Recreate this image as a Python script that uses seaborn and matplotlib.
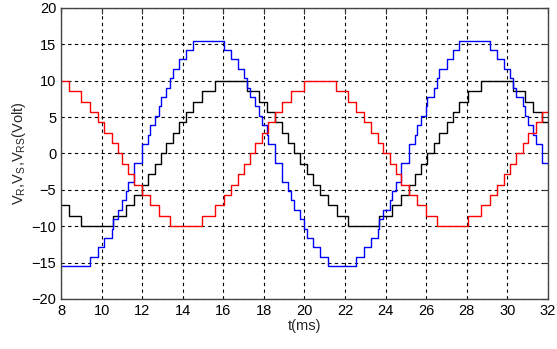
import numpy as np
import pandas as pd
import matplotlib
matplotlib.use("Agg")
import matplotlib.pyplot as plt
import seaborn as sns

# step start times (ms) and held levels (V)
t_r = [8.00, 8.40, 8.99, 9.44, 9.80, 10.13, 10.49, 10.79, 11.02, 11.28, 11.62, 12.01,
       12.40, 12.81, 13.38, 14.97, 15.60, 16.01, 16.39, 16.70, 17.01, 17.32, 17.58,
       17.90, 18.21, 18.53, 18.89, 19.36, 19.98, 21.55, 22.13, 22.55, 22.91, 23.27,
       23.60, 23.89, 24.19, 24.50, 24.78, 25.14, 25.54, 25.97, 26.53, 28.08, 28.71,
       29.16, 29.50, 29.82, 30.12, 30.44, 30.75, 31.03, 31.40, 31.72]
v_r = [10, 8.57, 7.14, 5.71, 4.29, 2.86, 1.43, 0, -1.43, -2.86, -4.29, -5.71, -7.14,
       -8.57, -10, -8.57, -7.14, -5.71, -4.29, -2.86, -1.43, 0, 1.43, 2.86, 4.29, 5.71,
       7.14, 8.57, 10, 8.57, 7.14, 5.71, 4.29, 2.86, 1.43, 0, -1.43, -2.86, -4.29,
       -5.71, -7.14, -8.57, -10, -8.57, -7.14, -5.71, -4.29, -2.86, -1.43, 0, 1.43,
       2.86, 4.29, 5.71]

t_s = [8.00, 8.40, 8.99, 10.58, 11.21, 11.62, 12.01, 12.31, 12.62, 12.93, 13.19, 13.51,
       13.82, 14.15, 14.51, 14.97, 15.60, 17.16, 17.74, 18.16, 18.53, 18.89, 19.21,
       19.50, 19.80, 20.11, 20.40, 20.78, 21.15, 21.58, 22.13, 23.68, 24.32, 24.78,
       25.14, 25.43, 25.73, 26.05, 26.36, 26.64, 27.01, 27.33, 27.63, 28.08, 28.71,
       30.28, 30.86, 31.28, 31.72]
v_s = [-7.14, -8.57, -10, -8.57, -7.14, -5.71, -4.29, -2.86, -1.43, 0, 1.43, 2.86,
       4.29, 5.71, 7.14, 8.57, 10, 8.57, 7.14, 5.71, 4.29, 2.86, 1.43, 0, -1.43, -2.86,
       -4.29, -5.71, -7.14, -8.57, -10, -8.57, -7.14, -5.71, -4.29, -2.86, -1.43, 0,
       1.43, 2.86, 4.29, 5.71, 7.14, 8.57, 10, 8.57, 7.14, 5.71, 4.29]

t_rs = [8.00, 9.44, 9.80, 10.13, 10.49, 10.58, 10.79, 11.02, 11.21, 11.28, 11.62, 12.01,
        12.31, 12.40, 12.62, 12.81, 12.93, 13.19, 13.38, 13.51, 13.82, 14.15, 14.51,
        16.01, 16.39, 16.70, 17.01, 17.16, 17.32, 17.58, 17.74, 17.90, 18.16, 18.21,
        18.53, 18.89, 19.21, 19.36, 19.50, 19.80, 19.98, 20.11, 20.40, 20.78, 21.15,
        22.55, 22.91, 23.27, 23.60, 23.68, 23.89, 24.19, 24.32, 24.50, 24.78, 25.14,
        25.43, 25.54, 25.73, 25.97, 26.05, 26.36, 26.53, 26.64, 27.01, 27.33, 27.63,
        29.16, 29.50, 29.82, 30.12, 30.28, 30.44, 30.75, 30.86, 31.03, 31.28, 31.40,
        31.72]
v_rs = [-15.5, -14.21, -12.92, -11.63, -10.33, -9.04, -7.75, -6.46, -5.17, -3.88,
        -1.29, 1.29, 2.58, 3.88, 5.17, 6.46, 7.75, 9.04, 10.33, 11.63, 12.92, 14.21,
        15.5, 14.21, 12.92, 11.63, 10.33, 9.04, 7.75, 6.46, 5.17, 3.88, 2.58, 1.29,
        -1.29, -3.88, -5.17, -6.46, -7.75, -9.04, -10.33, -11.63, -12.92, -14.21, -15.5,
        -14.21, -12.92, -11.63, -10.33, -9.04, -7.75, -6.46, -5.17, -3.88, -1.29, 1.29,
        2.58, 3.88, 5.17, 6.46, 7.75, 9.04, 10.33, 11.63, 12.92, 14.21, 15.5, 14.21,
        12.92, 11.63, 10.33, 9.04, 7.75, 6.46, 5.17, 3.88, 2.58, 1.29, -1.29]

t_end = 32
x_ticks = list(range(8, 33, 2))
y_ticks = list(range(-20, 21, 5))

sns.set_style("white")
plt.rcParams['font.family'] = ['Liberation Sans', 'DejaVu Sans']

fig = plt.figure(figsize=(5.57, 3.49), dpi=100)
ax = fig.add_axes([0.1095, 0.1433, 0.8743, 0.8338])


def stairs(t, v):
    # hold the last level up to the end of the axis
    return pd.DataFrame({"t": list(t) + [t_end], "v": list(v) + [v[-1]]})


for t, v, c in [(t_s, v_s, "black"), (t_rs, v_rs, "#0000ff"), (t_r, v_r, "#ff0000")]:
    d = stairs(t, v)
    sns.lineplot(data=d, x="t", y="v", ax=ax, color=c, lw=1.0,
                 drawstyle="steps-post", estimator=None, sort=False)

ax.set_xlim(8, 32)
ax.set_ylim(-20, 20)
ax.set_xticks(x_ticks)
ax.set_yticks(y_ticks)
ax.grid(True, color="black", linestyle=(0, (3, 3)), linewidth=0.8)
ax.set_axisbelow(True)
ax.tick_params(direction="in", length=4, top=True, right=True, labelsize=10.5,
               colors="#333333", labelcolor="black")
for s in ax.spines.values():
    s.set_color("#444444")
    s.set_linewidth(1.0)

ax.set_xlabel("t(ms)", fontsize=10.5, labelpad=1)
ax.set_ylabel(r"V$_\mathregular{R}$,V$_\mathregular{S}$,V$_\mathregular{RS}$(Volt)",
              fontsize=10.5, labelpad=2)

fig.savefig("out.png", dpi=100)
